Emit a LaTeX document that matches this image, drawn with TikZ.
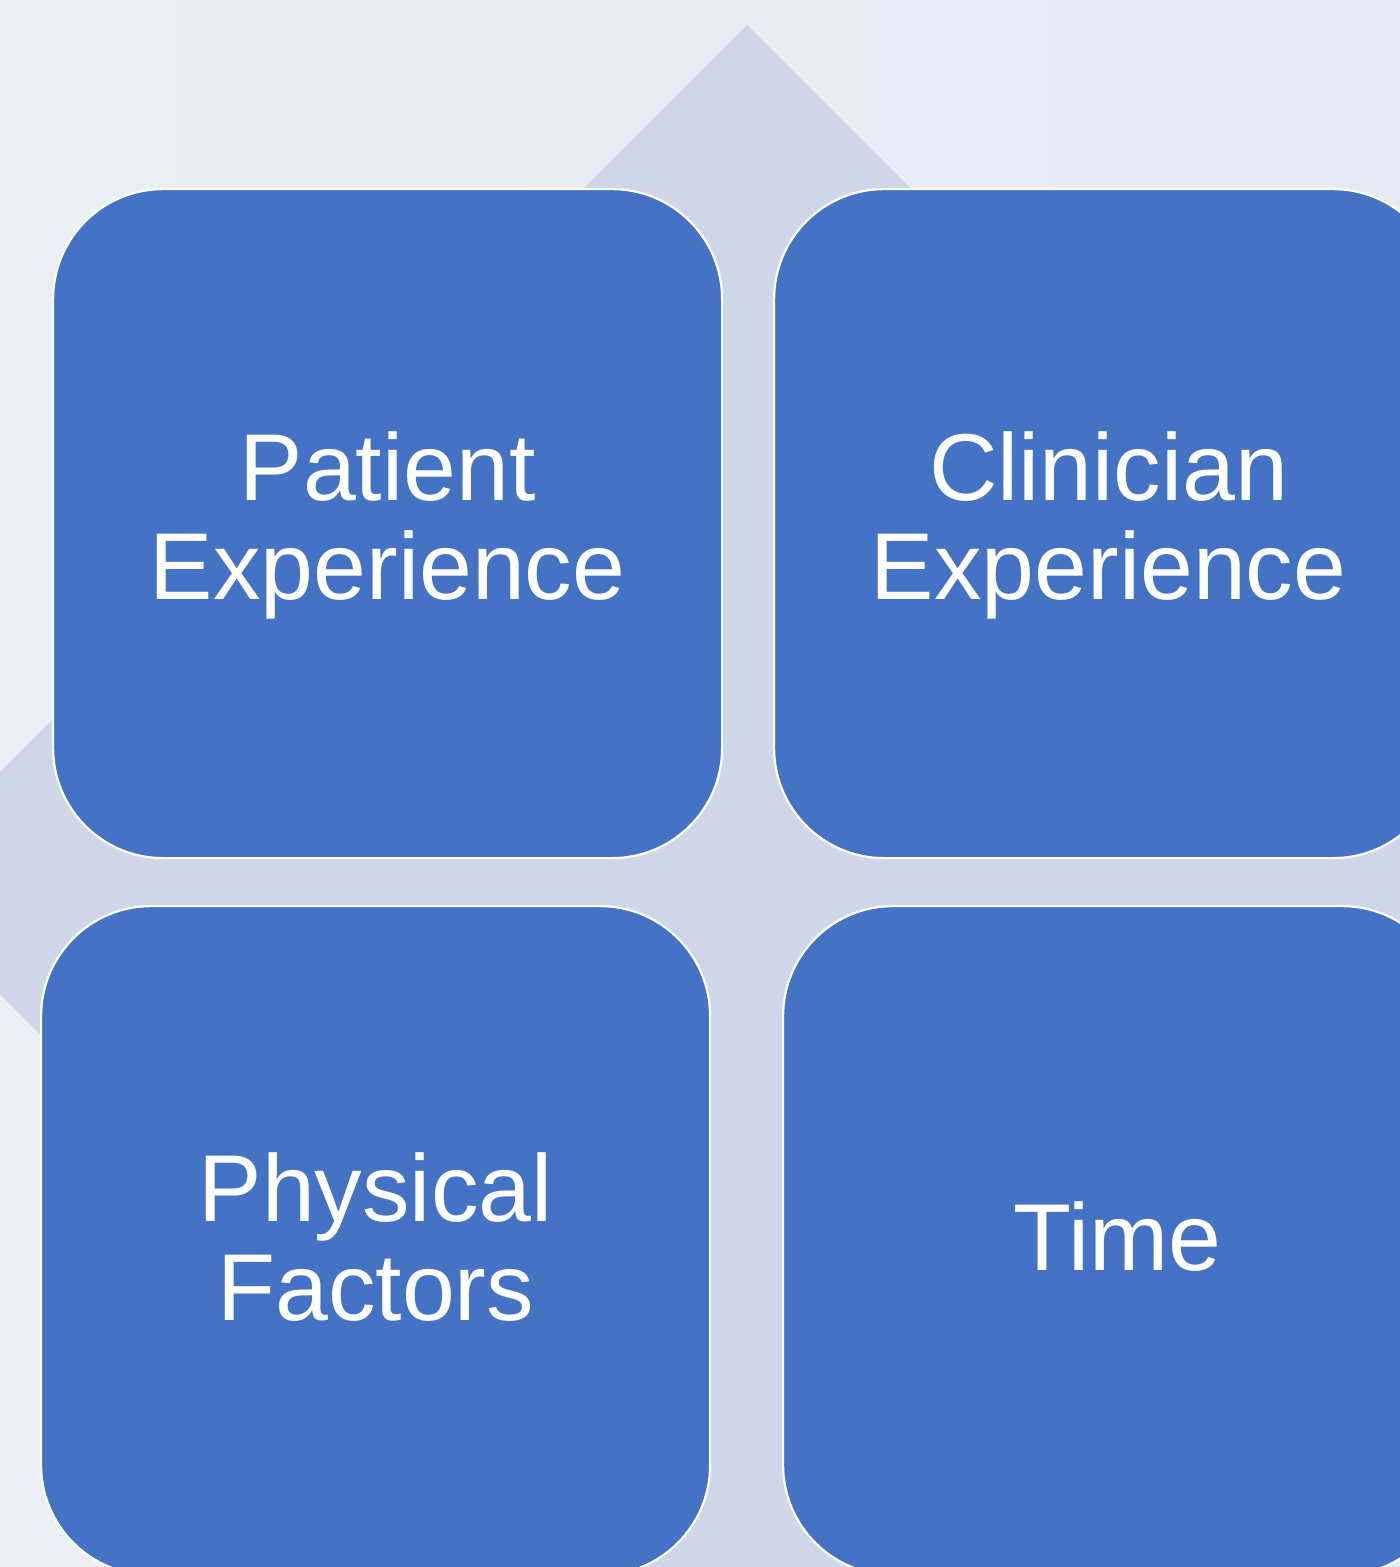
\documentclass[tikz,border=0pt]{standalone}
\usepackage{fontspec}
\setmainfont{Liberation Sans}
\definecolor{bgA}{HTML}{E9EFF3}
\definecolor{bgB}{HTML}{E7EBF4}
\definecolor{diamondfill}{HTML}{D0D6EA}
\definecolor{tilefill}{HTML}{4472C4}
\begin{document}
\begin{tikzpicture}[x=1pt,y=-1pt,
  tile/.style={draw=white, line width=2.2pt, fill=tilefill, rounded corners=110pt,
    minimum width=669pt, minimum height=669pt, anchor=north west, inner sep=0pt},
  tilelabel/.style={text=white, align=center, font=\fontsize{95}{99}\selectfont}]
  % page and background
  \useasboundingbox (0,0) rectangle (1400,1567);
  \shade[left color=bgA, right color=bgB] (0,0) rectangle (1400,1567);
  % large diamond behind the tiles
  \fill[diamondfill] (747,25) -- (1605,883) -- (747,1741) -- (-111,883) -- cycle;
  % the four tiles
  \node[tile] (patient) at (52,188) {};
  \node[tile] (clinician) at (773,188) {};
  \node[tile] (physical) at (40,905) {};
  \node[tile] (time) at (782,905) {};
  % labels
  \node[tilelabel] at ([yshift=-2pt]patient.center) {Patient\\Experience};
  \node[tilelabel] at ([yshift=-2pt]clinician.center) {Clinician\\Experience};
  \node[tilelabel] at ([yshift=4pt]physical.center) {Physical\\Factors};
  \node[tilelabel] at ([yshift=4pt]time.center) {Time};
\end{tikzpicture}
\end{document}
